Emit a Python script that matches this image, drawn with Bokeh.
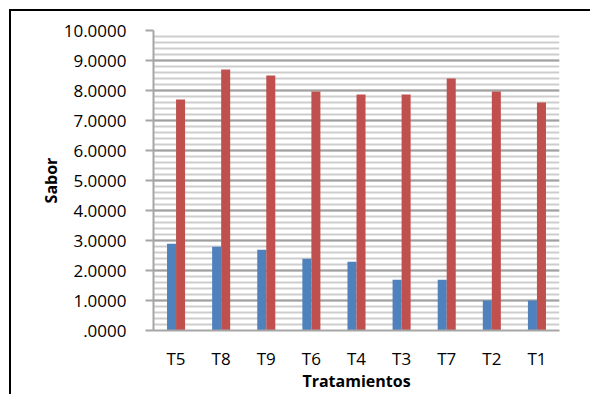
from bokeh.plotting import figure
from bokeh.models import ColumnDataSource, FactorRange, Range1d, FixedTicker
from bokeh.transform import dodge
from bokeh.embed import file_html
from bokeh.resources import INLINE

# Treatments, in the order they appear on the axis
categories = ["T5", "T8", "T9", "T6", "T4", "T3", "T7", "T2", "T1"]
# Two series of "Sabor" scores per treatment
serie_azul = [2.89, 2.79, 2.69, 2.39, 2.29, 1.69, 1.69, 1.00, 1.00]
serie_roja = [7.70, 8.70, 8.50, 7.97, 7.87, 7.87, 8.40, 7.97, 7.60]

y_ticks = [0, 1, 2, 3, 4, 5, 6, 7, 8, 9, 10]
y_tick_labels = [".0000", "1.0000", "2.0000", "3.0000", "4.0000", "5.0000",
                 "6.0000", "7.0000", "8.0000", "9.0000", "10.0000"]
y_minor = [i / 5 for i in range(0, 51)]

FONT = "Open Sans"
AXIS_GRAY = "#a6a6a6"

source = ColumnDataSource(dict(cat=categories, azul=serie_azul, roja=serie_roja))

p = figure(
    width=590, height=394,
    x_range=FactorRange(*categories, range_padding=0),
    y_range=Range1d(0, 10),
    output_backend="svg", toolbar_location=None,
    min_border_left=153, min_border_right=31,
    min_border_top=30, min_border_bottom=63,
)
p.outline_line_color = None
p.background_fill_color = "white"
# transparent border area so the page background (chart-area frame) shows through
p.border_fill_color = None
p.styles = {
    "background": (
        "linear-gradient(#000, #000) 9px 9px / 2px 100% no-repeat, "
        "linear-gradient(#000, #000) 9px 9px / 100% 2px no-repeat, #fff"
    ),
}

p.vbar(x=dodge("cat", -0.1, range=p.x_range), top="azul", width=0.2,
       source=source, fill_color="#4F81BD", line_color=None)
p.vbar(x=dodge("cat", 0.1, range=p.x_range), top="roja", width=0.2,
       source=source, fill_color="#C0504D", line_color=None)

ticker = FixedTicker(ticks=y_ticks, minor_ticks=y_minor)

# y axis
p.yaxis.ticker = ticker
p.yaxis.major_label_overrides = dict(zip(y_ticks, y_tick_labels))
p.yaxis.axis_line_color = AXIS_GRAY
p.yaxis.axis_line_width = 2
p.yaxis.major_tick_line_color = AXIS_GRAY
p.yaxis.major_tick_line_width = 2
p.yaxis.major_tick_out = 8
p.yaxis.major_tick_in = 0
p.yaxis.minor_tick_line_color = None
p.yaxis.major_label_standoff = 19
p.yaxis.major_label_text_font = FONT
p.yaxis.major_label_text_font_size = "17px"
p.yaxis.major_label_text_color = "black"
p.yaxis.axis_label = "Sabor"
p.yaxis.axis_label_text_font = FONT
p.yaxis.axis_label_text_font_style = "bold"
p.yaxis.axis_label_text_font_size = "16px"
p.yaxis.axis_label_text_color = "black"
p.yaxis.axis_label_standoff = -1

# x axis
p.xaxis.axis_line_color = AXIS_GRAY
p.xaxis.axis_line_width = 2
p.xaxis.major_tick_line_color = None
p.xaxis.minor_tick_line_color = None
p.xaxis.major_tick_out = 0
p.xaxis.major_tick_in = 0
p.xaxis.major_label_standoff = 16
p.xaxis.major_label_text_font = FONT
p.xaxis.major_label_text_font_size = "17px"
p.xaxis.major_label_text_color = "black"
p.xaxis.axis_label = "Tratamientos"
p.xaxis.axis_label_text_font = FONT
p.xaxis.axis_label_text_font_style = "bold"
p.xaxis.axis_label_text_font_size = "16px"
p.xaxis.axis_label_text_color = "black"
p.xaxis.axis_label_standoff = -3

# grid
p.xgrid.grid_line_color = None
p.ygrid.ticker = ticker
p.ygrid.grid_line_color = "#a0a0a0"
p.ygrid.grid_line_width = 2
p.ygrid.minor_grid_line_color = "#cdcdcd"
p.ygrid.minor_grid_line_width = 2

open("out.html", "w").write(file_html(p, INLINE))
